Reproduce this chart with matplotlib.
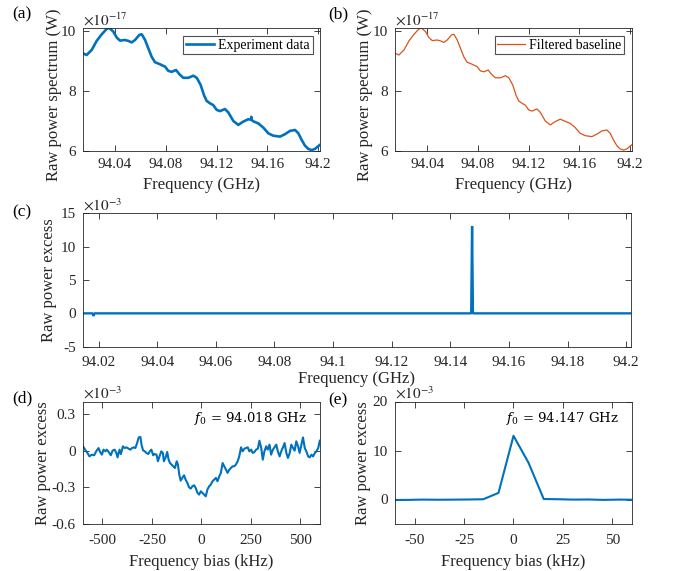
import numpy as np
import matplotlib
matplotlib.use('Agg')
import matplotlib.pyplot as plt
from matplotlib.ticker import FormatStrFormatter

plt.rcParams['font.family'] = ['Liberation Serif', 'DejaVu Serif']
plt.rcParams['mathtext.fontset'] = 'stix'
plt.rcParams['axes.unicode_minus'] = False

BLUE = '#0072BD'
ORANGE = '#D95319'
DARK = '#262626'

# (a)/(b) raw power spectrum (x1e-17 W) vs frequency (GHz)
spec_freq = [94.0146, 94.0177, 94.0217, 94.0256, 94.0296, 94.0335, 94.0355, 94.0387,
             94.0414, 94.0440, 94.0479, 94.0505, 94.0532, 94.0558, 94.0592, 94.0611,
             94.0637, 94.0663, 94.0689, 94.0715, 94.0755, 94.0795, 94.0820, 94.0847,
             94.0881, 94.0907, 94.0938, 94.0978, 94.1017, 94.1044, 94.1075, 94.1101,
             94.1122, 94.1148, 94.1174, 94.1201, 94.1227, 94.1266, 94.1292, 94.1332,
             94.1371, 94.1410, 94.1450, 94.1489, 94.1529, 94.1568, 94.1607, 94.1647,
             94.1700, 94.1739, 94.1778, 94.1818, 94.1844, 94.1870, 94.1896, 94.1922,
             94.1949, 94.1975, 94.2006, 94.2016]
spec_power = [9.26, 9.20, 9.37, 9.67, 9.89, 10.07, 10.10, 9.98,
              9.78, 9.68, 9.70, 9.67, 9.62, 9.70, 9.87, 9.89,
              9.70, 9.42, 9.14, 8.96, 8.89, 8.81, 8.67, 8.64,
              8.70, 8.56, 8.44, 8.44, 8.51, 8.44, 8.20, 7.86,
              7.67, 7.59, 7.53, 7.37, 7.33, 7.40, 7.29, 7.00,
              6.87, 6.98, 7.06, 6.99, 6.92, 6.78, 6.59, 6.51,
              6.48, 6.56, 6.67, 6.70, 6.59, 6.37, 6.18, 6.07,
              6.03, 6.07, 6.18, 6.21]
# small spike visible on the raw data at the resonance
spike_freq = [94.1470, 94.1474, 94.1478]
spike_power = [7.04, 7.14, 7.03]

# (c) raw power excess (x1e-3)
c_freq = [94.0146, 94.0180, 94.0183, 94.0186, 94.1471, 94.1474, 94.1477, 94.2016]
c_excess = [0.0, 0.0, -0.4, 0.0, 0.0, 13.1, 0.0, 0.0]

# (d) zoom around f0 = 94.018 GHz, bias in kHz, excess x1e-3
d_bias = [-600, -588, -576, -566, -554, -542, -532, -520, -512, -503, -495, -485,
          -478, -469, -458, -449, -439, -430, -424, -414, -407, -397, -388, -380,
          -368, -359, -351, -342, -334, -325, -317, -308, -303, -295, -286, -278,
          -269, -261, -253, -244, -237, -227, -220, -212, -203, -195, -190, -181,
          -173, -166, -159, -151, -142, -134, -125, -119, -112, -105, -97, -88,
          -80, -71, -63, -54, -46, -37, -29, -20, -12, -3, 5, 13,
          22, 30, 39, 47, 56, 64, 73, 81, 90, 98, 107, 115,
          124, 132, 141, 149, 157, 166, 174, 183, 191, 200, 208, 217,
          225, 234, 242, 251, 259, 268, 276, 285, 293, 302, 310, 318,
          327, 335, 344, 352, 361, 369, 378, 386, 395, 403, 412, 420,
          429, 437, 446, 454, 463, 471, 479, 488, 496, 505, 513, 522,
          530, 539, 547, 556, 564, 573, 581, 590, 598]
d_excess = [0.039, 0.007, -0.020, -0.048, -0.034, -0.039, -0.007, 0.020, -0.012, -0.034, 0.007, -0.007,
            0.007, -0.012, -0.039, -0.001, 0.007, -0.020, -0.056, 0.007, -0.029, 0.034, 0.020, 0.026,
            0.015, 0.007, 0.020, 0.026, 0.020, 0.061, 0.107, 0.110, 0.048, 0.001, -0.007, -0.020,
            -0.029, -0.007, 0.007, -0.039, -0.029, -0.034, -0.088, -0.048, -0.007, -0.020, -0.088, -0.056,
            -0.012, -0.075, -0.102, -0.115, -0.129, -0.143, -0.088, -0.115, -0.197, -0.246, -0.224, -0.202,
            -0.238, -0.265, -0.300, -0.311, -0.292, -0.284, -0.306, -0.346, -0.360, -0.333, -0.346, -0.360,
            -0.374, -0.319, -0.292, -0.279, -0.251, -0.238, -0.224, -0.251, -0.211, -0.183, -0.102, -0.129,
            -0.156, -0.183, -0.156, -0.143, -0.129, -0.129, -0.115, -0.088, -0.048, 0.026, -0.007, 0.015,
            0.020, 0.026, -0.007, 0.007, -0.020, -0.012, 0.007, 0.015, 0.080, 0.020, -0.075, -0.007,
            0.034, 0.007, 0.048, -0.034, 0.007, 0.026, 0.048, -0.007, -0.048, -0.007, 0.026, 0.061,
            -0.020, -0.061, -0.020, 0.048, 0.020, -0.001, 0.075, 0.034, -0.020, 0.048, 0.107, 0.020,
            -0.007, -0.048, -0.056, -0.034, -0.048, -0.020, -0.007, 0.020, 0.080]

# (e) zoom around f0 = 94.147 GHz
e_bias = [-61.0, -53.4, -45.8, -38.1, -30.5, -22.9, -15.3, -7.6, 0.0,
          7.6, 15.3, 22.9, 30.5, 38.1, 45.8, 53.4, 61.0]
e_excess = [-0.10, -0.08, -0.02, -0.05, -0.03, 0.00, 0.05, 1.35, 13.0,
            7.5, 0.10, 0.05, -0.02, 0.00, -0.08, -0.02, -0.05]

W, H = 675, 571
fig = plt.figure(figsize=(W / 100, H / 100), dpi=100)


def px_axes(l, t, r, b):
    return fig.add_axes([l / W, 1 - b / H, (r - l) / W, (b - t) / H])


def style(ax, xpad=5, ypad=5):
    ax.tick_params(direction='in', top=True, right=True, length=4, width=0.6,
                   colors=DARK, labelsize=11)
    ax.tick_params(axis='x', pad=xpad)
    ax.tick_params(axis='y', pad=ypad)
    for s in ax.spines.values():
        s.set_color(DARK)
        s.set_linewidth(0.6)


def expo(ax, txt):
    ax.text(0.0, 1.0, txt, transform=ax.transAxes, ha='left', va='bottom',
            fontsize=11, color=DARK)


xlo, xhi = 94.0146, 94.2016

ax_a = px_axes(82.7, 28.3, 320.2, 151)
ax_b = px_axes(395, 28.3, 632, 151)
ax_c = px_axes(82.7, 213.3, 631, 346.7)
ax_d = px_axes(82.7, 401.5, 320.2, 524)
ax_e = px_axes(395, 401.5, 632, 524)

exp_freq = np.concatenate([spec_freq, spike_freq])
exp_power = np.concatenate([spec_power, spike_power])
order = np.argsort(exp_freq)
ax_a.plot(exp_freq[order], exp_power[order], color=BLUE, lw=1.9, label='Experiment data')
ax_b.plot(spec_freq, spec_power, color=ORANGE, lw=0.9, label='Filtered baseline')

for ax, lx in ((ax_a, -0.088), (ax_b, -0.093)):
    style(ax)
    ax.set_xlim(xlo, xhi)
    ax.set_ylim(6, 10.09)
    ax.set_xticks([94.04, 94.08, 94.12, 94.16, 94.2])
    ax.xaxis.set_major_formatter(FormatStrFormatter('%g'))
    ax.set_yticks([6, 8, 10])
    ax.set_xlabel('Frequency (GHz)', fontsize=12, color=DARK, labelpad=4)
    ax.set_ylabel('Raw power spectrum (W)', fontsize=12, color=DARK)
    ax.yaxis.set_label_coords(lx, 0.46)
    expo(ax, r'$\times10^{-17}$')
    leg = ax.legend(loc='upper right', fontsize=10, fancybox=False, borderpad=0.2,
                    handlelength=2.0, handletextpad=0.3, borderaxespad=0.55)
    leg.get_frame().set_edgecolor(DARK)
    leg.get_frame().set_linewidth(0.8)

ax_c.plot(c_freq, c_excess, color=BLUE, lw=1.7, solid_joinstyle='bevel')
style(ax_c, xpad=7, ypad=5)
ax_c.set_xlim(xlo, xhi)
ax_c.set_ylim(-5, 15)
ax_c.set_xticks(np.round(np.arange(94.02, 94.201, 0.02), 2))
ax_c.xaxis.set_major_formatter(FormatStrFormatter('%g'))
ax_c.set_yticks([-5, 0, 5, 10, 15])
ax_c.set_xlabel('Frequency (GHz)', fontsize=12, color=DARK, labelpad=1)
ax_c.set_ylabel('Raw power excess', fontsize=12, color=DARK)
ax_c.yaxis.set_label_coords(-0.046, 0.5)
expo(ax_c, r'$\times10^{-3}$')

ax_d.plot(d_bias, d_excess, color=BLUE, lw=1.5)
style(ax_d, xpad=7, ypad=5)
ax_d.set_xlim(-600, 600)
ax_d.set_ylim(-0.6, 0.4)
ax_d.set_xticks([-500, -250, 0, 250, 500])
ax_d.set_yticks([-0.6, -0.3, 0, 0.3])
ax_d.yaxis.set_major_formatter(FormatStrFormatter('%g'))
ax_d.set_xlabel('Frequency bias (kHz)', fontsize=12, color=DARK, labelpad=5)
ax_d.set_ylabel('Raw power excess', fontsize=12, color=DARK)
ax_d.yaxis.set_label_coords(-0.133, 0.5)
expo(ax_d, r'$\times10^{-3}$')
ax_d.text(0.47, 0.865, r'$f_0$ = 94.018 GHz', transform=ax_d.transAxes,
          fontsize=9.5, family='DejaVu Serif', math_fontfamily='dejavuserif',
          ha='left', va='center', color='black')

ax_e.plot(e_bias, e_excess, color=BLUE, lw=1.5)
style(ax_e, xpad=7, ypad=5)
ax_e.set_xlim(-60, 60)
ax_e.set_ylim(-5, 20)
ax_e.set_xticks([-50, -25, 0, 25, 50])
ax_e.set_yticks([0, 10, 20])
ax_e.set_xlabel('Frequency bias (kHz)', fontsize=12, color=DARK, labelpad=5)
ax_e.set_ylabel('Raw power excess', fontsize=12, color=DARK)
ax_e.yaxis.set_label_coords(-0.101, 0.5)
expo(ax_e, r'$\times10^{-3}$')
ax_e.text(0.47, 0.865, r'$f_0$ = 94.147 GHz', transform=ax_e.transAxes,
          fontsize=9.5, family='DejaVu Serif', math_fontfamily='dejavuserif',
          ha='left', va='center', color='black')

for lab, x, y in [('(a)', 12, 14), ('(b)', 328, 14), ('(c)', 12, 212),
                  ('(d)', 12, 398), ('(e)', 328, 400)]:
    fig.text(x / W, 1 - y / H, lab, fontsize=12.5, ha='left', va='center', color='black')

fig.savefig('out.png', dpi=100)
